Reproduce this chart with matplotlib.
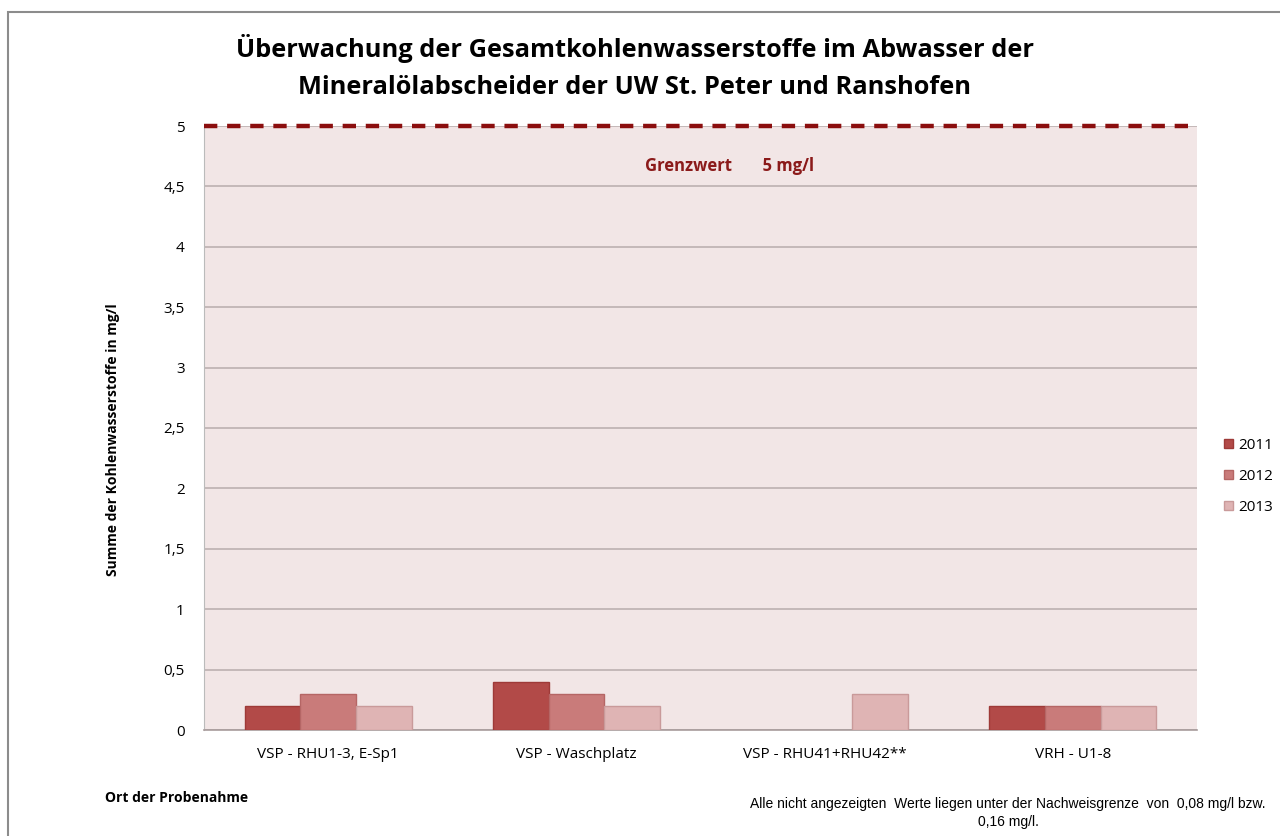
import numpy as np
import matplotlib.pyplot as plt
from matplotlib.patches import Rectangle

plt.rcParams['font.family'] = ['Open Sans', 'DejaVu Sans']

categories = ["VSP - RHU1-3, E-Sp1", "VSP - Waschplatz", "VSP - RHU41+RHU42**", "VRH - U1-8"]
years = ["2011", "2012", "2013"]
values_2011 = [0.2, 0.4, np.nan, 0.2]
values_2012 = [0.3, 0.3, np.nan, 0.2]
values_2013 = [0.2, 0.2, 0.3, 0.2]
grenzwert = 5.0
yticks = [0, 0.5, 1, 1.5, 2, 2.5, 3, 3.5, 4, 4.5, 5]
ytick_labels = ["0", "0,5", "1", "1,5", "2", "2,5", "3", "3,5", "4", "4,5", "5"]

colors = ["#B24A48", "#C97B7A", "#DFB4B4"]
edges = ["#9E3A38", "#B56665", "#C99A9A"]

fig = plt.figure(figsize=(12.8, 8.36), dpi=100)
ax = fig.add_axes([204 / 1280, 1 - 730 / 836, 993 / 1280, 604 / 836])

# outer frame of the chart area
fig.patches.append(Rectangle((8 / 1280, -0.01), 1.0, 1 - 12 / 836 + 0.01,
                             transform=fig.transFigure, fill=False,
                             edgecolor="#8C8C8C", linewidth=1.5))

ax.set_facecolor("#F2E6E6")
x = np.arange(len(categories))
w = 0.224
for i, vals in enumerate([values_2011, values_2012, values_2013]):
    ax.bar(x + (i - 1) * w, vals, width=w, color=colors[i], edgecolor=edges[i],
           linewidth=1, label=years[i], zorder=3)

ax.plot([-0.5, 3.5], [grenzwert, grenzwert], color="#8B0E0E", linestyle=(0, (3, 2.2)),
        linewidth=3.2, zorder=4, clip_on=False)
ax.text(1.617, 4.67, "Grenzwert       5 mg/l", color="#8B1A1A", fontsize=12,
        fontweight="bold", ha="center", va="center")

ax.set_xlim(-0.5, 3.5)
ax.set_ylim(0, 5)
ax.set_yticks(yticks)
ax.set_yticklabels(ytick_labels, fontsize=11)
ax.set_xticks(x)
ax.set_xticklabels(categories, fontsize=11)
ax.tick_params(axis="both", length=0, pad=14)
ax.tick_params(axis="x", pad=12)
ax.grid(axis="y", color="#BDB0B0", linewidth=1.2, zorder=1)
for s in ["top", "right"]:
    ax.spines[s].set_visible(False)
ax.spines["left"].set_color("#BBBBBB")
ax.spines["bottom"].set_color("#A89C9C")
ax.spines["bottom"].set_linewidth(1.2)

fig.text(635 / 1280, 1 - 67 / 836,
         "Überwachung der Gesamtkohlenwasserstoffe im Abwasser der\n"
         "Mineralölabscheider der UW St. Peter und Ranshofen",
         ha="center", va="center", fontsize=18.3, fontweight="bold", linespacing=1.62)
fig.text(113 / 1280, 1 - 440 / 836, "Summe der Kohlenwasserstoffe in mg/l",
         rotation=90, ha="center", va="center", fontsize=10, fontweight="bold")
fig.text(105 / 1280, 1 - 798 / 836, "Ort der Probenahme", ha="left", va="center",
         fontsize=10, fontweight="bold")
fig.text(1008 / 1280, 1 - 813 / 836,
         "Alle nicht angezeigten  Werte liegen unter der Nachweisgrenze  von  0,08 mg/l bzw.\n0,16 mg/l.",
         ha="center", va="center", fontsize=10, family=["Liberation Sans", "DejaVu Sans"],
         linespacing=1.45)

ax.legend(loc="center left", bbox_to_anchor=(1.027, 0.42), frameon=False, fontsize=11,
          handlelength=0.6, handleheight=0.6, handletextpad=0.35, labelspacing=1.05,
          borderaxespad=0, borderpad=0)

fig.savefig("out.png", dpi=100)
